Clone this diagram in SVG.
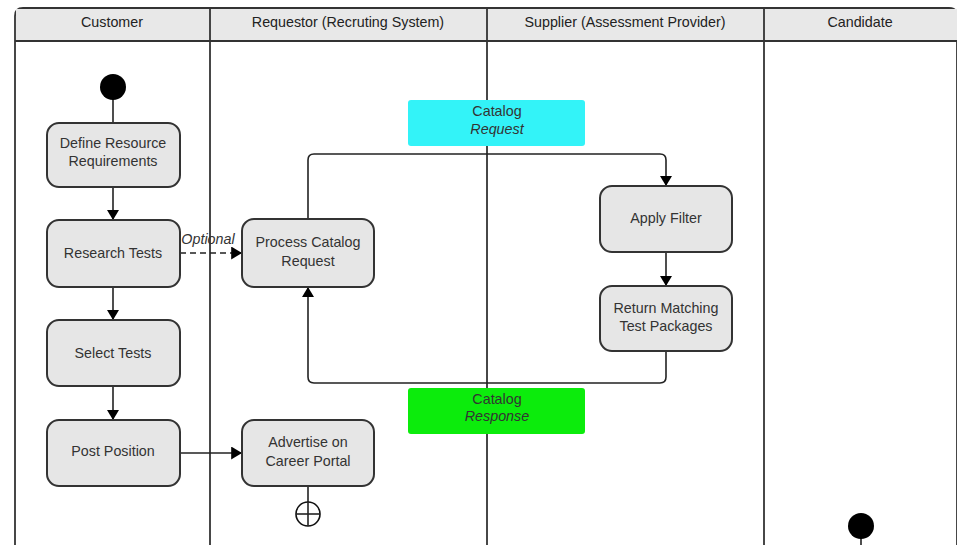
<svg xmlns="http://www.w3.org/2000/svg" width="957" height="545" viewBox="0 0 957 545">
<defs>
<marker id="ah" viewBox="0 0 10 12" refX="10" refY="6" markerWidth="11" markerHeight="12" markerUnits="userSpaceOnUse" orient="auto"><path d="M0,0 L10,6 L0,12 Z" fill="#000"/></marker>
<marker id="ah2" viewBox="0 0 10 12" refX="10" refY="6" markerWidth="13" markerHeight="13" markerUnits="userSpaceOnUse" orient="auto"><path d="M0,0 L10,6 L0,12 Z" fill="#000"/></marker>
</defs>
<style>
text{font-family:"Liberation Sans",Arial,sans-serif;font-size:14.3px;fill:#333;text-anchor:middle}
.hdr{font-size:14.3px;fill:#222}
.box{fill:#e6e6e6;stroke:#333;stroke-width:2}
.ln{fill:none;stroke:#222;stroke-width:1.6}
.lane{stroke:#333;stroke-width:1.8;fill:none}
</style>
<rect x="0" y="0" width="957" height="545" fill="#fff"/>
<g id="lanes">
<path d="M15,545 V16 Q15,8 23,8 H949 Q957,8 957,16 V545" class="lane" fill="none"/>
<rect x="16" y="9" width="941" height="32" fill="#e8e8e8"/>
<line x1="15" y1="41" x2="957" y2="41" class="lane"/>
<line x1="210" y1="8" x2="210" y2="545" class="lane"/>
<line x1="487" y1="8" x2="487" y2="545" class="lane"/>
<line x1="764" y1="8" x2="764" y2="545" class="lane"/>
<text class="hdr" x="112" y="27">Customer</text>
<text class="hdr" x="348" y="27">Requestor (Recruting System)</text>
<text class="hdr" x="625" y="27">Supplier (Assessment Provider)</text>
<text class="hdr" x="860" y="27">Candidate</text>
</g>
<g id="connectors">
<line x1="113" y1="95" x2="113" y2="123" class="ln"/>
<line x1="113" y1="187" x2="113" y2="220" class="ln" marker-end="url(#ah)"/>
<line x1="113" y1="287" x2="113" y2="320" class="ln" marker-end="url(#ah)"/>
<line x1="113" y1="386" x2="113" y2="420" class="ln" marker-end="url(#ah)"/>
<line x1="180" y1="253" x2="242" y2="253" class="ln" stroke-dasharray="6,4" marker-end="url(#ah2)"/>
<text x="208" y="244" font-style="italic" fill="#222">Optional</text>
<line x1="180" y1="453" x2="242" y2="453" class="ln" marker-end="url(#ah2)"/>
<path d="M308,219 V160 Q308,154 314,154 H660 Q666,154 666,160 V186" class="ln" marker-end="url(#ah)"/>
<line x1="666" y1="252" x2="666" y2="286" class="ln" marker-end="url(#ah)"/>
<path d="M666,351 V377 Q666,383 660,383 H314 Q308,383 308,377 V287" class="ln" marker-end="url(#ah)"/>
<line x1="308" y1="486" x2="308" y2="502" class="ln"/>
<line x1="861" y1="530" x2="861" y2="545" class="ln"/>
</g>
<g id="start1"><circle cx="113" cy="87" r="13" fill="#000"/></g>
<g id="define"><rect x="47" y="123" width="133" height="64" rx="12" class="box"/><text x="113" y="148">Define Resource</text><text x="113" y="166">Requirements</text></g>
<g id="research"><rect x="47" y="220" width="133" height="67" rx="12" class="box"/><text x="113" y="258">Research Tests</text></g>
<g id="select"><rect x="47" y="320" width="133" height="66" rx="12" class="box"/><text x="113" y="358">Select Tests</text></g>
<g id="post"><rect x="47" y="420" width="133" height="66" rx="12" class="box"/><text x="113" y="456">Post Position</text></g>
<g id="process"><rect x="242" y="219" width="132" height="68" rx="12" class="box"/><text x="308" y="247">Process Catalog</text><text x="308" y="266">Request</text></g>
<g id="advertise"><rect x="242" y="420" width="132" height="66" rx="12" class="box"/><text x="308" y="447">Advertise on</text><text x="308" y="466">Career Portal</text></g>
<g id="final"><circle cx="308" cy="514" r="12" fill="#fff" stroke="#111" stroke-width="1.6"/><line x1="296" y1="514" x2="320" y2="514" class="ln"/><line x1="308" y1="502" x2="308" y2="526" class="ln"/></g>
<g id="filter"><rect x="600" y="186" width="132" height="66" rx="12" class="box"/><text x="666" y="223">Apply Filter</text></g>
<g id="return"><rect x="600" y="286" width="132" height="65" rx="12" class="box"/><text x="666" y="313">Return Matching</text><text x="666" y="331">Test Packages</text></g>
<g id="catreq"><rect x="408" y="100" width="177" height="46" rx="3" fill="#33f3f8"/><text x="497" y="116" fill="#1a3a3a">Catalog</text><text x="497" y="134" font-style="italic" fill="#1a3a3a">Request</text></g>
<g id="catresp"><rect x="408" y="388" width="177" height="46" rx="3" fill="#0cec0c"/><text x="497" y="404" fill="#1a3a1a">Catalog</text><text x="497" y="421" font-style="italic" fill="#1a3a1a">Response</text></g>
<g id="start2"><circle cx="861" cy="526" r="13" fill="#000"/></g>
</svg>
